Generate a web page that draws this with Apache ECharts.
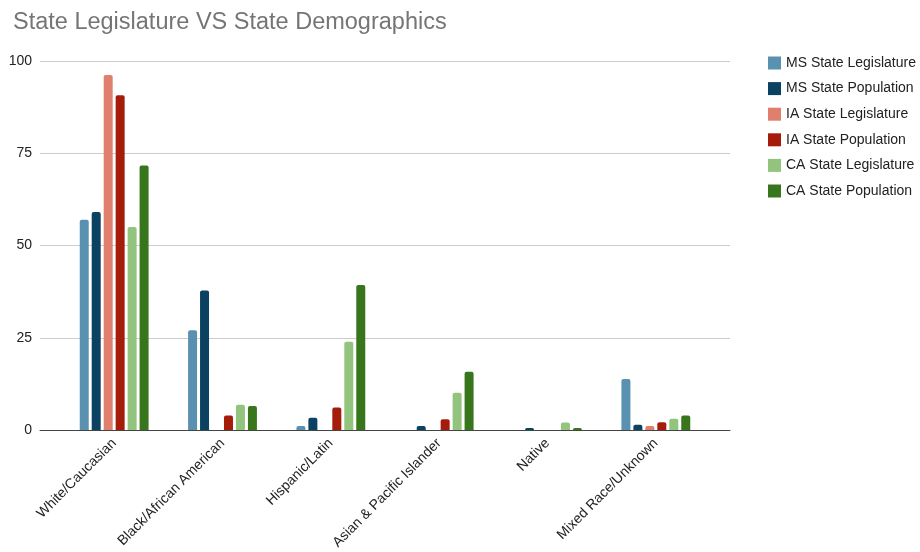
<!DOCTYPE html>
<html>
<head>
<meta charset="utf-8">
<script src="https://cdn.jsdelivr.net/npm/echarts@6/dist/echarts.min.js"></script>
<style>
	html, body { margin: 0; padding: 0; background: #fff; }
	#chart { width: 920px; height: 552px; }
</style>
</head>
<body>
<div id="chart"></div>
<script>
	var categories = ['White/Caucasian', 'Black/African American', 'Hispanic/Latin', 'Asian & Pacific Islander', 'Native', 'Mixed Race/Unknown'];
	var msLegislature = [57, 27, 1.1, 0, 0, 13.8];
	var msPopulation = [59.1, 37.8, 3.3, 1.1, 0.5, 1.4];
	var iaLegislature = [96.2, 0, 0, 0, 0, 1.1];
	var iaPopulation = [90.7, 3.9, 6.1, 2.9, 0, 2.1];
	var caLegislature = [55, 6.8, 23.9, 10.1, 2, 3];
	var caPopulation = [71.7, 6.5, 39.3, 15.8, 0.5, 3.9];
	var yTicks = [0, 25, 50, 75, 100];

	var seriesNames = ['MS State Legislature', 'MS State Population', 'IA State Legislature', 'IA State Population', 'CA State Legislature', 'CA State Population'];
	var seriesData = [msLegislature, msPopulation, iaLegislature, iaPopulation, caLegislature, caPopulation];
	var colors = ['#5a91b1', '#0b4261', '#e07f6e', '#a51c0a', '#93c47d', '#38761d'];

	var myChart = echarts.init(document.getElementById('chart'));

	var series = seriesNames.map(function (name, i) {
		return {
			name: name,
			type: 'bar',
			xAxisIndex: 1,
			yAxisIndex: 1,
			barWidth: 9,
			barGap: '33%',
			itemStyle: { color: colors[i], borderRadius: [2, 2, 0, 0] },
			data: seriesData[i]
		};
	});

	var option = {
		animation: false,
		textStyle: { fontFamily: 'Liberation Sans, Arial, sans-serif' },
		color: colors,
		title: {
			text: 'State Legislature VS State Demographics',
			left: 8,
			top: 6,
			textStyle: { color: '#757575', fontSize: 23.5, fontWeight: 'normal' }
		},
		legend: {
			orient: 'vertical',
			left: 763,
			top: 51,
			itemWidth: 13,
			itemHeight: 13,
			itemGap: 11.6,
			icon: 'rect',
			textStyle: { color: '#222', fontSize: 14 },
			data: seriesNames
		},
		grid: [
			// background grid: gridlines + baseline + y labels
			{ left: 40, right: 190, top: 61, bottom: 122 },
			// bar grid: narrower, like the sheets padding
			{ left: 60, right: 210, top: 61, bottom: 122 }
		],
		xAxis: [{
			gridIndex: 0,
			type: 'category',
			data: categories,
			axisLine: { lineStyle: { color: '#444', width: 1 } },
			axisTick: { show: false },
			axisLabel: { show: false }
		}, {
			gridIndex: 1,
			type: 'category',
			data: categories,
			axisLine: { show: false },
			axisTick: { show: false },
			axisLabel: {
				interval: 0,
				rotate: 45,
				color: '#222',
				fontSize: 14,
				margin: 11
			}
		}],
		yAxis: [{
			gridIndex: 0,
			type: 'value',
			min: yTicks[0],
			max: yTicks[yTicks.length - 1],
			interval: 25,
			axisLine: { show: false },
			axisTick: { show: false },
			axisLabel: { color: '#222', fontSize: 14, margin: 8 },
			splitLine: { lineStyle: { color: '#ccc' } }
		}, {
			gridIndex: 1,
			type: 'value',
			min: yTicks[0],
			max: yTicks[yTicks.length - 1],
			interval: 25,
			show: false,
			splitLine: { show: false }
		}],
		series: series
	};
	myChart.setOption(option);
</script>
</body>
</html>
